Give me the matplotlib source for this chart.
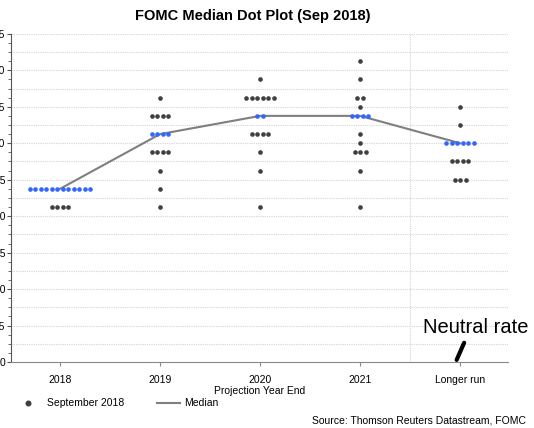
import matplotlib
matplotlib.use("Agg")
import matplotlib.pyplot as plt
from matplotlib.lines import Line2D
import numpy as np

plt.rcParams["font.family"] = ["Liberation Sans", "DejaVu Sans"]

# ── data ─────────────────────────────────────────────────────────────────────
categories = ["2018", "2019", "2020", "2021", "Longer run"]

# rate level -> number of participants, per projection year
dots_2018 = {2.375: 12, 2.125: 4}
dots_2019 = {3.625: 1, 3.375: 4, 3.125: 4, 2.875: 4, 2.625: 1, 2.375: 1, 2.125: 1}
dots_2020 = {3.875: 1, 3.625: 6, 3.375: 2, 3.125: 4, 2.875: 1, 2.625: 1, 2.125: 1}
dots_2021 = {4.125: 1, 3.875: 1, 3.625: 2, 3.5: 1, 3.375: 4, 3.125: 1, 3.0: 1,
             2.875: 3, 2.625: 1, 2.125: 1}
dots_longer = {3.5: 1, 3.25: 1, 3.0: 6, 2.75: 4, 2.5: 3}
all_dots = [dots_2018, dots_2019, dots_2020, dots_2021, dots_longer]

medians = [2.375, 3.125, 3.375, 3.375, 3.0]

y_ticks = [0.0, 0.5, 1.0, 1.5, 2.0, 2.5, 3.0, 3.5, 4.0, 4.5]
y_labels = ["0", "0.5", "1.0", "1.5", "2.0", "2.5", "3.0", "3.5", "4.0", "4.5"]

DOT_GREY = "#3f3f3f"
DOT_BLUE = "#3366ff"
LINE_GREY = "#7f7f7f"
STEP = 0.055  # horizontal spacing between dots in a row

fig = plt.figure(figsize=(5.34, 4.28), dpi=100)
ax = fig.add_axes([0.0206, 0.154, 0.931, 0.767])

# horizontal dotted grid every 0.25, separator before "Longer run"
for lvl in np.arange(0.25, 4.51, 0.25):
    ax.axhline(lvl, color="#d4d4d4", lw=0.8, ls=(0, (1, 1)), zorder=0)
ax.axvline(3.5, color="#d4d4d4", lw=0.8, ls=(0, (1, 1)), zorder=0)

ax.plot(range(len(categories)), medians, color=LINE_GREY, lw=1.5, zorder=2)

for i, counts in enumerate(all_dots):
    for lvl, n in counts.items():
        xs = i + (np.arange(n) - (n - 1) / 2) * STEP
        color = DOT_BLUE if lvl == medians[i] else DOT_GREY
        ax.scatter(xs, [lvl] * n, s=11, color=color, linewidths=0, zorder=3)

ax.set_xlim(-0.49, 4.48)
ax.set_ylim(0, 4.5)
ax.set_xticks(range(len(categories)))
ax.set_xticklabels(categories, fontsize=7.5)
# the source image crops the y labels at the left edge, keep that look
ax.set_yticks(y_ticks)
ax.set_yticklabels(y_labels, fontsize=7.5)
ax.set_yticks(np.arange(0, 4.51, 0.125), minor=True)
ax.tick_params(axis="y", which="major", length=3, color="#555555", pad=1)
ax.tick_params(axis="y", which="minor", length=2, color="#555555")
ax.tick_params(axis="x", length=3, color="#888888", pad=6)
ax.set_xlabel("Projection Year End", fontsize=7.5, labelpad=1)

for side in ("top", "right"):
    ax.spines[side].set_visible(False)
ax.spines["left"].set_color("#555555")
ax.spines["bottom"].set_color("#888888")

fig.text(0.473, 0.963, "FOMC Median Dot Plot (Sep 2018)", ha="center", va="center",
         fontsize=10.5, fontweight="bold")

# legend drawn by hand, laid out like the source
fig.add_artist(Line2D([0.053], [0.058], marker="o", ms=3.3, color=DOT_GREY,
                      lw=0, transform=fig.transFigure))
fig.text(0.088, 0.058, "September 2018", fontsize=7.5, va="center")
fig.add_artist(Line2D([0.294, 0.337], [0.058, 0.058], color=LINE_GREY, lw=1.5,
                      transform=fig.transFigure))
fig.text(0.345, 0.058, "Median", fontsize=7.5, va="center")

fig.text(0.985, 0.018, "Source: Thomson Reuters Datastream, FOMC", fontsize=7.5,
         ha="right", va="center")

# "Neutral rate" call-out pointing at the longer-run column
ax.text(4.16, 0.48, "Neutral rate", fontsize=14.5, ha="center", va="center")
ax.plot([4.04, 3.965], [0.265, 0.03], color="black", lw=3, solid_capstyle="round",
        clip_on=False, zorder=4)

fig.savefig("out.png", dpi=100)
